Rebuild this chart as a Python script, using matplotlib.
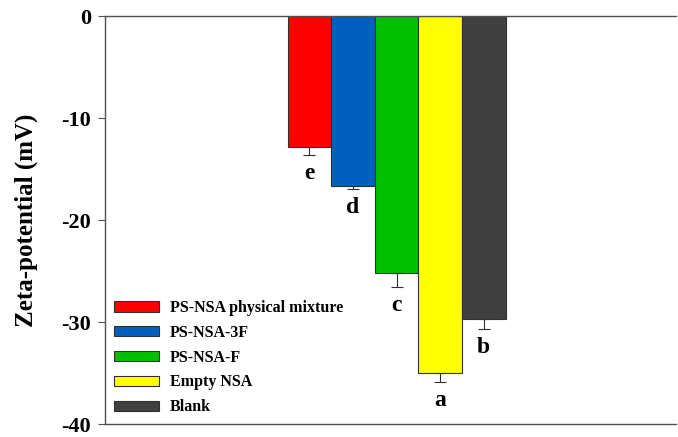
import numpy as np
import matplotlib.pyplot as plt

labels = ['PS-NSA physical mixture', 'PS-NSA-3F', 'PS-NSA-F', 'Empty NSA', 'Blank']
values = [-12.8, -16.7, -25.2, -35.0, -29.7]
errors = [0.8, 0.3, 1.4, 0.9, 1.0]
letters = ['e', 'd', 'c', 'a', 'b']
colors = ['#ff0000', '#0060c0', '#00c000', '#ffff00', '#404040']

plt.rcParams['font.family'] = ['Liberation Serif', 'DejaVu Serif']
plt.rcParams['font.weight'] = 'bold'

fig = plt.figure(figsize=(6.78, 4.37), dpi=100)
ax = fig.add_axes([105/678, 1 - 424/437, (676-105)/678, (424-16)/437])

x = np.arange(len(values))
for i in range(len(values)):
    ax.bar(x[i], values[i], width=1.0, color=colors[i], edgecolor='#303030',
           linewidth=0.8, label=labels[i], zorder=2)
    ax.errorbar(x[i], values[i], yerr=[[errors[i]], [0]], fmt='none',
                ecolor='#303030', elinewidth=0.8, capsize=4, capthick=0.8, zorder=3)
    ax.text(x[i], values[i] - errors[i] - 1.8, letters[i], ha='center', va='center',
            fontsize=17, fontweight='bold')

ax.set_xlim(-4.69, 8.41)
ax.set_ylim(-40, 0)
ax.set_yticks([0, -10, -20, -30, -40])
ax.set_yticklabels(['0', '-10', '-20', '-30', '-40'], fontsize=16, fontweight='bold')
ax.set_xticks([])
ax.tick_params(axis='y', direction='out', length=5, width=0.8, color='#505050', pad=5)
ax.set_ylabel('Zeta-potential (mV)', fontsize=18, fontweight='bold', labelpad=17)

for s in ['top', 'bottom', 'left']:
    ax.spines[s].set_color('#505050')
    ax.spines[s].set_linewidth(1.0)
ax.spines['right'].set_visible(False)

ax.legend(loc='lower left', bbox_to_anchor=(0.0, 0.0), frameon=False,
          prop={'size': 11.5, 'weight': 'bold'}, handlelength=2.8, handleheight=0.6,
          labelspacing=0.55, handletextpad=0.7, borderaxespad=0.15)

fig.savefig('out.png', dpi=100)
